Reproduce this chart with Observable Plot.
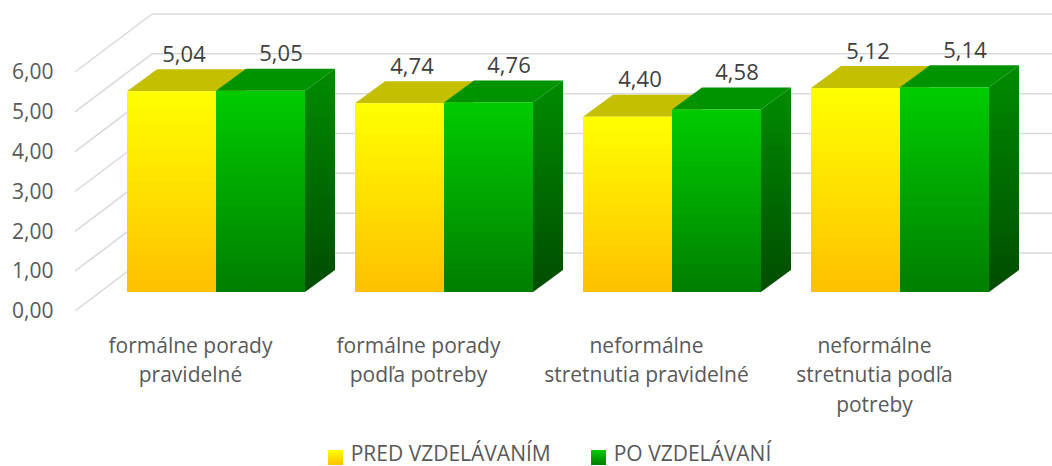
<!DOCTYPE html>
<html>
<head>
<meta charset="utf-8">
<script src="https://cdn.jsdelivr.net/npm/d3@7"></script>
<script src="https://cdn.jsdelivr.net/npm/@observablehq/plot@0.6"></script>
<style>
  html, body { margin: 0; padding: 0; background: #fff; }
  #chart { position: relative; width: 1052px; height: 466px; overflow: hidden; font-family: 'Open Sans', sans-serif; }
  #chart svg { display: block; }
  #legend { position: absolute; left: 0; top: 440px; width: 1052px; height: 26px; display: flex; justify-content: center; align-items: flex-start; padding-left: 47px; box-sizing: border-box; color: #595959; font-size: 21px; line-height: 26px; }
  #legend .item { display: flex; align-items: flex-start; margin: 0 20px; }
  #legend .sw { display: inline-block; width: 15px; height: 15px; margin-top: 10px; margin-right: 8px; }
</style>
</head>
<body>
<div id="chart"></div>
<script>
// ---- data ----
const categories = [
  "formálne porady pravidelné",
  "formálne porady podľa potreby",
  "neformálne stretnutia pravidelné",
  "neformálne stretnutia podľa potreby"
];
const categoryLabels = [
  "formálne porady\npravidelné",
  "formálne porady\npodľa potreby",
  "neformálne\nstretnutia pravidelné",
  "neformálne\nstretnutia podľa\npotreby"
];
const seriesNames = ["PRED VZDELÁVANÍM", "PO VZDELÁVANÍ"];
const predValues = [5.04, 4.74, 4.40, 5.12];
const poValues = [5.05, 4.76, 4.58, 5.14];
const yTicks = [0, 1, 2, 3, 4, 5, 6];

// ---- table built from the arrays ----
const rows = categories.flatMap((c, i) => [
  {category: c, series: seriesNames[0], value: predValues[i]},
  {category: c, series: seriesNames[1], value: poValues[i]}
]);

// ---- styling / geometry ----
const W = 1052, H = 440;
const FRONT = [26, -19];   // offset of the bar fronts from the front plane
const DEPTH = [30, -22];   // bar depth
const WALL = [77, -58];    // back wall offset
const INSET_OUT = 25, BAR_W = 89;
const gridColor = "#D9D9D9";
const textColor = "#595959";
const styles = {
  [seriesNames[0]]: {front: "url(#gFrontY)", top: "#C4BF00", side: "url(#gSideY)"},
  [seriesNames[1]]: {front: "url(#gFrontG)", top: "#009300", side: "url(#gSideG)"}
};

const locale = d3.formatLocale({decimal: ",", thousands: " ", grouping: [3], currency: ["", " €"]});
const fmt = locale.format(".2f");

function defs() {
  const d = d3.create("svg:defs");
  const grads = [
    ["gFrontY", "#FFFF00", "#FFC000"],
    ["gFrontG", "#00CC00", "#007E00"],
    ["gSideY", "#C4BF00", "#A08000"],
    ["gSideG", "#008C00", "#004C00"]
  ];
  for (const [id, c0, c1] of grads) {
    const g = d.append("linearGradient").attr("id", id).attr("x1", 0).attr("y1", 0).attr("x2", 0).attr("y2", 1);
    g.append("stop").attr("offset", "0%").attr("stop-color", c0);
    g.append("stop").attr("offset", "100%").attr("stop-color", c1);
  }
  return d.node();
}

function walls(index, scales, values, dims) {
  const y = scales.y;
  const left = dims.marginLeft;
  const g = d3.create("svg:g").attr("stroke", gridColor).attr("stroke-width", 1.5).attr("fill", "none");
  for (const t of yTicks) {
    const yy = y(t);
    g.append("line").attr("x1", left).attr("y1", yy).attr("x2", left + WALL[0]).attr("y2", yy + WALL[1]);
    g.append("line").attr("x1", left + WALL[0]).attr("y1", yy + WALL[1]).attr("x2", dims.width).attr("y2", yy + WALL[1]);
  }
  return g.node();
}

function faces(index, scales) {
  const {x, y} = scales;
  const g = d3.create("svg:g");
  for (const d of rows) {
    const si = seriesNames.indexOf(d.series);
    const x0 = x(d.category) + INSET_OUT + si * BAR_W + FRONT[0];
    const x1 = x0 + BAR_W;
    const yt = y(d.value) + FRONT[1];
    const yb = y(0) + FRONT[1];
    const st = styles[d.series];
    g.append("polygon")
      .attr("points", [[x1, yt], [x1 + DEPTH[0], yt + DEPTH[1]], [x1 + DEPTH[0], yb + DEPTH[1]], [x1, yb]].map(p => p.join(",")).join(" "))
      .attr("fill", st.side);
    g.append("polygon")
      .attr("points", [[x0, yt], [x1, yt], [x1 + DEPTH[0], yt + DEPTH[1]], [x0 + DEPTH[0], yt + DEPTH[1]]].map(p => p.join(",")).join(" "))
      .attr("fill", st.top);
  }
  return g.node();
}

const plot = Plot.plot({
  width: W,
  height: H,
  marginLeft: 75,
  marginRight: 64,
  marginTop: 72,
  marginBottom: H - 311,
  style: {background: "#fff", fontFamily: "'Open Sans', sans-serif", fontSize: "20px", overflow: "visible"},
  x: {domain: categories, padding: 0, axis: null},
  y: {domain: [0, 6], axis: null},
  marks: [
    defs,
    walls,
    faces,
    Plot.barY(rows.filter(d => d.series === seriesNames[0]), {
      x: "category", y: "value", fill: styles[seriesNames[0]].front,
      insetLeft: INSET_OUT, insetRight: INSET_OUT + BAR_W, dx: FRONT[0], dy: FRONT[1]
    }),
    Plot.barY(rows.filter(d => d.series === seriesNames[1]), {
      x: "category", y: "value", fill: styles[seriesNames[1]].front,
      insetLeft: INSET_OUT + BAR_W, insetRight: INSET_OUT, dx: FRONT[0], dy: FRONT[1]
    }),
    Plot.text(rows.filter(d => d.series === seriesNames[0]), {
      x: "category", y: "value", text: d => fmt(d.value),
      dx: -44.5 + FRONT[0] + 12, dy: FRONT[1] + DEPTH[1] - 15,
      fill: "#404040", fontSize: 22
    }),
    Plot.text(rows.filter(d => d.series === seriesNames[1]), {
      x: "category", y: "value", text: d => fmt(d.value),
      dx: 44.5 + FRONT[0] + 20, dy: FRONT[1] + DEPTH[1] - 15,
      fill: "#404040", fontSize: 22
    }),
    Plot.axisY(yTicks, {
      tickFormat: fmt, tickSize: 0, tickPadding: 22, fontSize: 21, color: textColor, label: null
    }),
    Plot.axisX({
      tickSize: 0, tickPadding: 20, fontSize: 21, lineHeight: 1.42, color: textColor, label: null,
      tickFormat: d => categoryLabels[categories.indexOf(d)]
    })
  ]
});

const chart = document.getElementById("chart");
chart.appendChild(plot);

// legend
const legend = document.createElement("div");
legend.id = "legend";
const swatches = ["linear-gradient(#FFFF00, #FFC000)", "linear-gradient(#00CC00, #007E00)"];
seriesNames.forEach((name, i) => {
  const item = document.createElement("div");
  item.className = "item";
  const sw = document.createElement("span");
  sw.className = "sw";
  sw.style.background = swatches[i];
  item.appendChild(sw);
  item.appendChild(document.createTextNode(name));
  legend.appendChild(item);
});
chart.appendChild(legend);
</script>
</body>
</html>
